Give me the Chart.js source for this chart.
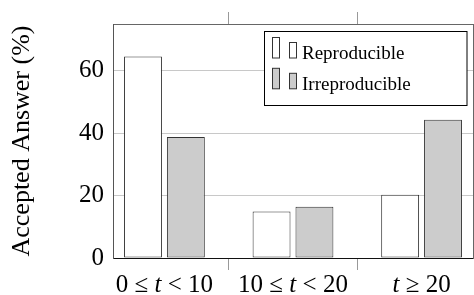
<!DOCTYPE html>
<html><head><meta charset="utf-8">
<script src="https://cdn.jsdelivr.net/npm/chart.js@4"></script>
<style>html,body{margin:0;padding:0;background:#fff}#w{width:474px;height:295px;position:relative}</style>
</head><body><div id="w"><canvas id="c"></canvas></div>
<script>
const categories = ['0 ≤ t < 10', '10 ≤ t < 20', 't ≥ 20'];
const reproducible = [64.6, 14.9, 20.3];
const irreproducible = [38.8, 16.4, 44.3];
const yTicks = [0, 20, 40, 60];
const seriesNames = ['Reproducible', 'Irreproducible'];
const yTitle = 'Accepted Answer (%)';

const serif = "'Liberation Serif', 'DejaVu Serif', serif";
const pts = arr => arr.map((v, i) => ({x: i, y: v}));
const catTicks = s => { s.ticks = categories.map((_, i) => ({value: i})); };

const legendPlugin = {
  id: 'boxLegend',
  afterDatasetsDraw(chart) {
    const ctx = chart.ctx;
    ctx.save();
    const bx = 264.5, by = 31.5, bw = 202.5, bh = 74;
    ctx.fillStyle = '#fff'; ctx.fillRect(bx, by, bw, bh);
    ctx.strokeStyle = '#000'; ctx.lineWidth = 1; ctx.strokeRect(bx, by, bw, bh);
    chart.data.datasets.forEach((ds, i) => {
      const oy = i * 30.8;
      ctx.fillStyle = ds.backgroundColor; ctx.strokeStyle = ds.borderColor; ctx.lineWidth = 1;
      ctx.fillRect(272.5, 37.5 + oy, 7, 20.5); ctx.strokeRect(272.5, 37.5 + oy, 7, 20.5);
      ctx.fillRect(289.5, 42.5 + oy, 7, 15.5); ctx.strokeRect(289.5, 42.5 + oy, 7, 15.5);
      ctx.fillStyle = '#000'; ctx.font = '19px ' + serif; ctx.textBaseline = 'alphabetic';
      ctx.fillText(ds.label, 302, 59 + oy);
    });
    ctx.restore();
  }
};

// draws the category labels with an italic variable "t" (math style)
const xLabelPlugin = {
  id: 'mathLabels',
  afterDraw(chart) {
    const ctx = chart.ctx, sx = chart.scales.x;
    const up = '25px ' + serif, it = 'italic 25px ' + serif;
    ctx.save();
    ctx.fillStyle = '#000'; ctx.textBaseline = 'alphabetic'; ctx.textAlign = 'left';
    categories.forEach((lab, i) => {
      const parts = [];
      for (const ch of lab) parts.push({ch, f: ch === 't' ? it : up});
      let w = 0;
      parts.forEach(p => { ctx.font = p.f; p.w = ctx.measureText(p.ch).width; w += p.w; });
      let x = sx.getPixelForValue(i) - w / 2;
      parts.forEach(p => { ctx.font = p.f; ctx.fillText(p.ch, x, 292); x += p.w; });
    });
    ctx.restore();
  }
};

new Chart(document.getElementById('c'), {
  type: 'bar',
  data: {
    datasets: [
      {label: seriesNames[0], data: pts(reproducible), backgroundColor: '#ffffff', borderColor: '#333', borderWidth: 1, borderSkipped: false},
      {label: seriesNames[1], data: pts(irreproducible), backgroundColor: '#cccccc', borderColor: '#333', borderWidth: 1, borderSkipped: false}
    ]
  },
  options: {
    responsive: true, maintainAspectRatio: false, animation: false,
    categoryPercentage: 0.667, barPercentage: 0.884,
    layout: {padding: 0},
    plugins: {legend: {display: false}, tooltip: {enabled: false}},
    scales: {
      x: {
        type: 'linear', position: 'bottom', min: -0.4, max: 2.4, offset: false,
        afterBuildTicks: catTicks,
        afterFit: s => { s.height = 37; },
        ticks: {display: false},
        grid: {offset: true, drawOnChartArea: false, drawTicks: true, tickLength: 12, tickColor: '#999', tickWidth: 1},
        border: {display: true, color: '#111', width: 1}
      },
      xTop: {
        type: 'linear', position: 'top', min: -0.4, max: 2.4, offset: false,
        afterBuildTicks: catTicks,
        afterFit: s => { s.height = 19; },
        ticks: {display: false},
        grid: {offset: true, drawOnChartArea: false, drawTicks: true, tickLength: 12, tickColor: '#999', tickWidth: 1},
        border: {display: true, color: '#666', width: 1}
      },
      y: {
        min: 0, max: 75,
        afterBuildTicks: s => { s.ticks = yTicks.map(v => ({value: v})); },
        afterFit: s => { s.width = 113; },
        ticks: {font: {family: serif, size: 25}, color: '#000', padding: 9},
        grid: {color: '#c8c8c8', drawTicks: false},
        border: {display: true, color: '#555', width: 1},
        title: {display: true, text: yTitle, font: {family: serif, size: 26}, color: '#000', padding: {top: 6.5, bottom: 0}}
      },
      yRight: {
        position: 'right', min: 0, max: 75,
        afterFit: s => { s.width = 1; },
        ticks: {display: false},
        grid: {display: false, drawTicks: false},
        border: {display: true, color: '#666', width: 1}
      }
    }
  },
  plugins: [legendPlugin, xLabelPlugin]
});
</script>
</body></html>
